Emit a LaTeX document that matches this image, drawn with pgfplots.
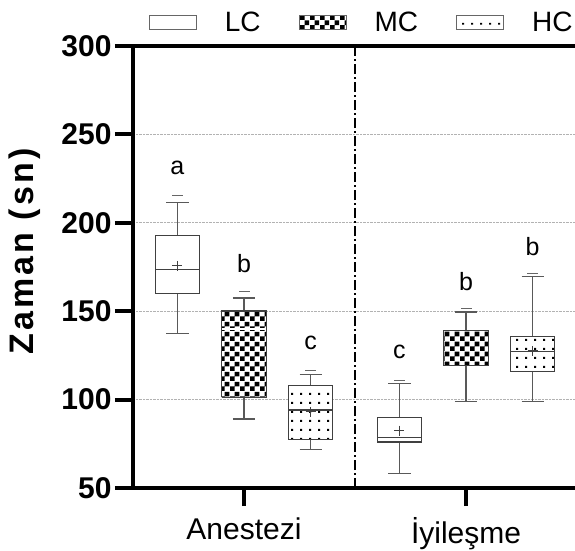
\documentclass[border=0pt]{standalone}
\usepackage{fontspec}
\setmainfont{Liberation Sans}
\usepackage{pgfplots}
\pgfplotsset{compat=1.18}
\usetikzlibrary{patterns,calc}

% coarse checkerboard and sparse dots, as in the reference
\pgfdeclarepatternformonly{bigchecker}{\pgfpointorigin}{\pgfqpoint{10pt}{10pt}}{\pgfqpoint{10pt}{10pt}}{%
  \pgfpathrectangle{\pgfpointorigin}{\pgfqpoint{5pt}{5pt}}%
  \pgfpathrectangle{\pgfqpoint{5pt}{5pt}}{\pgfqpoint{5pt}{5pt}}%
  \pgfusepath{fill}}
\pgfdeclarepatternformonly{sparsedots}{\pgfpointorigin}{\pgfqpoint{9pt}{9pt}}{\pgfqpoint{9pt}{9pt}}{%
  \pgfpathrectangle{\pgfqpoint{3.5pt}{3.5pt}}{\pgfqpoint{2pt}{2pt}}%
  \pgfusepath{fill}}

\pgfplotsset{
  boxLC/.style={draw=black!75, line width=1.3pt, fill=white},
  boxMC/.style={draw=black!75, line width=1.3pt, fill=white, postaction={pattern=bigchecker}},
  boxHC/.style={draw=black!75, line width=1.3pt, fill=white, postaction={pattern=sparsedots}},
}

\begin{document}
\begin{tikzpicture}
\begin{axis}[
  name=ax,
  scale only axis,
  width=452.9pt, height=442pt,
  xmin=0.5, xmax=2.54,
  ymin=50, ymax=300,
  ytick={50,100,...,300},
  xtick={1,2},
  xticklabels={Anestezi,İyileşme},
  tick pos=left,
  tick align=outside,
  major tick length=18pt,
  every tick/.style={black, line width=4pt},
  axis line style={line width=4pt},
  ymajorgrids,
  major grid style={densely dotted, black!30, line width=0.8pt},
  unbounded coords=jump,
  /pgf/number format/assume math mode=true,
  yticklabel style={font=\fontsize{30}{30}\selectfont\bfseries},
  xticklabel style={font=\fontsize{30}{30}\selectfont, yshift=-8pt},
  ylabel={Zaman (sn)},
  every axis y label/.style={at={(axis description cs:-0.2385,0.535)}, rotate=90, anchor=center,
    font=\fontsize{34}{34}\selectfont\bfseries\addfontfeatures{LetterSpace=9}},
  legend columns=3,
  legend style={draw=none, fill=none, at={(axis description cs:0.028,1.054)}, anchor=west,
    font=\fontsize{28}{28}\selectfont,
    /tikz/every odd column/.append style={column sep=26pt},
    /tikz/every even column/.append style={column sep=36pt}},
  legend image code/.code={\draw[#1] (0pt,-7pt) rectangle (47pt,7pt);},
]
\addlegendimage{draw=black!60, line width=1pt, fill=white}
\addlegendentry{LC}
\addlegendimage{draw=black!60, line width=1pt, pattern=bigchecker}
\addlegendentry{MC}
\addlegendimage{draw=black!60, line width=1pt, pattern=sparsedots}
\addlegendentry{HC}

% divider between the two phases
\draw[black, line width=2pt, dash pattern=on 10pt off 3pt on 2pt off 3pt]
  (axis cs:1.5,50) -- (axis cs:1.5,300);

% whiskers and caps (Q3 -> upper whisker, Q1 -> lower whisker)
\addplot[forget plot, black!65, line width=1.3pt] coordinates {
  (0.7,192.8) (0.7,211.6) (0.7,nan) (0.65,211.6) (0.75,211.6) (0.7,nan)
  (0.7,160.2) (0.7,137.2) (0.7,nan) (0.65,137.2) (0.75,137.2) (0.7,nan)
  (1.0,150.2) (1.0,157.4) (1.0,nan) (0.95,157.4) (1.05,157.4) (1.0,nan)
  (1.0,101.3) (1.0,89.0) (1.0,nan) (0.95,89.0) (1.05,89.0) (1.0,nan)
  (1.3,107.8) (1.3,114.2) (1.3,nan) (1.25,114.2) (1.35,114.2) (1.3,nan)
  (1.3,77.3) (1.3,71.6) (1.3,nan) (1.25,71.6) (1.35,71.6) (1.3,nan)
  (1.7,89.7) (1.7,109.1) (1.7,nan) (1.65,109.1) (1.75,109.1) (1.7,nan)
  (1.7,76.0) (1.7,58.4) (1.7,nan) (1.65,58.4) (1.75,58.4) (1.7,nan)
  (2.0,138.9) (2.0,149.5) (2.0,nan) (1.95,149.5) (2.05,149.5) (2.0,nan)
  (2.0,119.1) (2.0,98.9) (2.0,nan) (1.95,98.9) (2.05,98.9) (2.0,nan)
  (2.3,135.7) (2.3,169.6) (2.3,nan) (2.25,169.6) (2.35,169.6) (2.3,nan)
  (2.3,115.9) (2.3,98.9) (2.3,nan) (2.25,98.9) (2.35,98.9)
};

% boxes (lower quartile to upper quartile)
\addplot[forget plot, boxLC] coordinates {(0.6,160.2) (0.8,160.2) (0.8,192.8) (0.6,192.8) (0.6,160.2)};
\addplot[forget plot, boxMC] coordinates {(0.9,101.3) (1.1,101.3) (1.1,150.2) (0.9,150.2) (0.9,101.3)};
\addplot[forget plot, boxHC] coordinates {(1.2,77.3) (1.4,77.3) (1.4,107.8) (1.2,107.8) (1.2,77.3)};
\addplot[forget plot, boxLC] coordinates {(1.6,76.0) (1.8,76.0) (1.8,89.7) (1.6,89.7) (1.6,76.0)};
\addplot[forget plot, boxMC] coordinates {(1.9,119.1) (2.1,119.1) (2.1,138.9) (1.9,138.9) (1.9,119.1)};
\addplot[forget plot, boxHC] coordinates {(2.2,115.9) (2.4,115.9) (2.4,135.7) (2.2,135.7) (2.2,115.9)};

% medians
\addplot[forget plot, black!75, line width=1.3pt] coordinates {
  (0.6,173.4) (0.8,173.4) (0.7,nan) (1.2,94.1) (1.4,94.1) (1.3,nan)
  (1.6,78.7) (1.8,78.7) (1.7,nan) (2.2,127.2) (2.4,127.2)};
\addplot[forget plot, white, line width=1.2pt] coordinates {(0.9,139.9) (1.1,139.9)};

% means
\addplot[forget plot, only marks, mark=+, mark size=5pt, black!75, line width=1.1pt]
  coordinates {(0.7,175.6) (1.3,93.1) (1.7,82.4) (2.3,127.6)};

% maxima shown as short dashes above the caps
\addplot[forget plot, only marks, mark=-, mark size=5.5pt, black!60, line width=1.3pt]
  coordinates {(0.7,215.4) (1.0,161.1) (1.3,116.5) (1.7,111.0) (2.0,151.7) (2.3,171.5)};

% significance letters
\addplot[forget plot, draw=none, mark=none, nodes near coords, point meta=explicit symbolic,
  nodes near coords style={anchor=center, font=\fontsize{25}{25}\selectfont}]
  table[meta=l] {
x y l
0.7 231.0 a
1.0 176.8 b
1.3 132.1 c
1.7 127.2 c
2.0 166.8 b
2.3 186.5 b
};
\end{axis}
\pgfresetboundingbox
\path[use as bounding box] ($(ax.south west)+(-133pt,-62pt)$) rectangle ($(ax.south west)+(442pt,488pt)$);
\end{tikzpicture}
\end{document}
